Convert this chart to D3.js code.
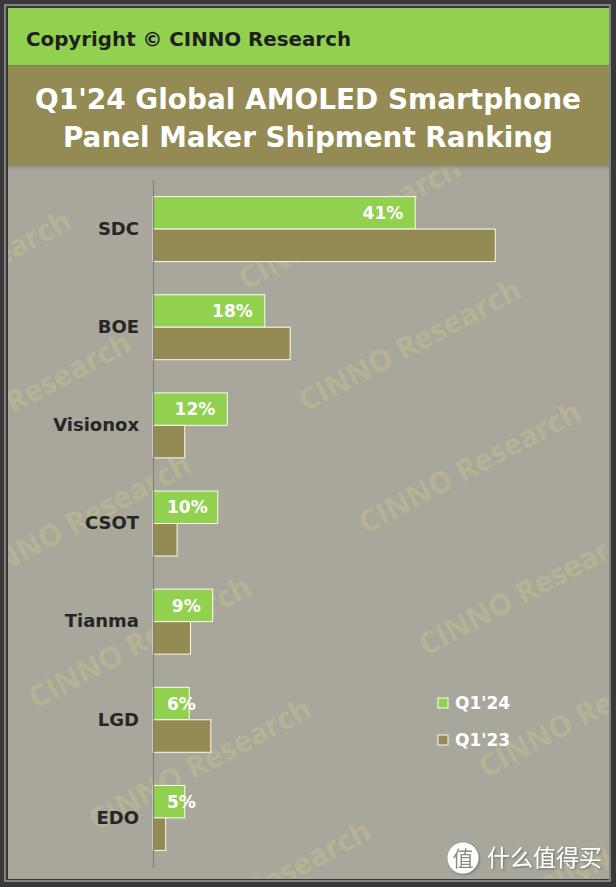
<!DOCTYPE html>
<html>
<head>
<meta charset="utf-8">
<script src="https://cdn.jsdelivr.net/npm/d3@7"></script>
<style>
  html, body { margin: 0; padding: 0; background: #383838; }
  svg { display: block; }
</style>
</head>
<body>
<script>
// data (share of shipments, %)
const makers = ["SDC", "BOE", "Visionox", "CSOT", "Tianma", "LGD", "EDO"];
const seriesNames = ["Q1'24", "Q1'23"];
const q124 = [41.3, 17.6, 11.7, 10.2, 9.4, 5.7, 5.0];
const q123 = [53.9, 21.6, 5.0, 3.8, 5.9, 9.1, 2.0];

const width = 616, height = 887;
const green = "#92d050", olive = "#948a54", plotBg = "#a9a79b";

const svg = d3.select("body").append("svg")
  .attr("width", width)
  .attr("height", height);

const defs = svg.append("defs");
const shadow = defs.append("linearGradient")
  .attr("id", "shadow").attr("x1", 0).attr("y1", 0).attr("x2", 0).attr("y2", 1);
shadow.append("stop").attr("offset", 0).attr("stop-color", "#6f6c5c").attr("stop-opacity", 0.6);
shadow.append("stop").attr("offset", 1).attr("stop-color", plotBg).attr("stop-opacity", 0);

defs.append("clipPath").attr("id", "plotClip")
  .append("rect").attr("x", 8).attr("y", 165).attr("width", 601).attr("height", 713);

defs.append("filter").attr("id", "txtShadow")
  .append("feDropShadow").attr("dx", 1).attr("dy", 1).attr("stdDeviation", 0.8)
  .attr("flood-color", "#555").attr("flood-opacity", 0.7);

// frame
svg.append("rect").attr("width", width).attr("height", height).attr("rx", 6).attr("fill", "#383838");
svg.append("rect").attr("x", 5).attr("y", 5).attr("width", 605).attr("height", 876)
  .attr("fill", "none").attr("stroke", "#9c9c96").attr("stroke-width", 1.5);
svg.append("rect").attr("x", 8).attr("y", 8).attr("width", 601).attr("height", 871).attr("fill", plotBg);

// watermark (behind everything in the plot area)
const wm = svg.append("g").attr("clip-path", "url(#plotClip)");
const wmPos = [];
for (let i = -4; i <= 6; i++) {
  for (let j = -2; j <= 3; j++) {
    const cx = 410 + i * 60 + j * 330;
    const cy = 345 + i * 122 - j * 175;
    if (cx > -100 && cx < 720 && cy > 130 && cy < 960) wmPos.push([cx, cy]);
  }
}
wm.selectAll("text").data(wmPos).enter().append("text")
  .attr("transform", d => `translate(${d[0]},${d[1]}) rotate(-28)`)
  .attr("text-anchor", "middle").attr("dy", "0.35em")
  .style("font-family", "Open Sans").style("font-weight", "bold").style("font-size", "30px")
  .attr("fill", "#d4ca86").attr("opacity", 0.32)
  .text("CINNO Research");

// header band
svg.append("rect").attr("x", 8).attr("y", 8).attr("width", 601).attr("height", 58).attr("fill", green);
svg.append("line").attr("x1", 8).attr("x2", 609).attr("y1", 65.5).attr("y2", 65.5)
  .attr("stroke", "#6e8f45").attr("stroke-width", 1);
svg.append("text")
  .attr("x", 26).attr("y", 46)
  .attr("textLength", 325).attr("lengthAdjust", "spacingAndGlyphs")
  .style("font-family", "DejaVu Sans").style("font-weight", "bold").style("font-size", "20px")
  .attr("fill", "#1f1f1f")
  .text("Copyright © CINNO Research");

// title band
svg.append("rect").attr("x", 8).attr("y", 66).attr("width", 601).attr("height", 99).attr("fill", olive);
svg.append("rect").attr("x", 8).attr("y", 165).attr("width", 601).attr("height", 7).attr("fill", "url(#shadow)");
const titleLines = [
  { t: "Q1'24 Global AMOLED Smartphone", y: 109, w: 546 },
  { t: "Panel Maker Shipment Ranking", y: 147, w: 490 }
];
svg.selectAll(".title").data(titleLines).enter().append("text")
  .attr("class", "title")
  .attr("x", width / 2).attr("y", d => d.y)
  .attr("text-anchor", "middle")
  .attr("textLength", d => d.w).attr("lengthAdjust", "spacingAndGlyphs")
  .style("font-family", "DejaVu Sans").style("font-weight", "bold").style("font-size", "28px")
  .attr("fill", "#ffffff")
  .text(d => d.t);

// scales
const y = d3.scaleBand().domain(makers).range([180, 867]);
const ySeries = d3.scaleBand().domain(seriesNames).range([0, y.bandwidth()]).paddingOuter(0.51);
const x = d3.scaleLinear().domain([0, 60]).range([153, 534]);
const color = d3.scaleOrdinal().domain(seriesNames).range([green, olive]);

const rows = makers.map((m, i) => ({ maker: m, vals: [
  { s: seriesNames[0], v: q124[i] },
  { s: seriesNames[1], v: q123[i] }
]}));

const groups = svg.append("g").selectAll("g").data(rows).enter().append("g")
  .attr("transform", d => `translate(0,${y(d.maker)})`);

groups.selectAll("rect").data(d => d.vals).enter().append("rect")
  .attr("x", x(0))
  .attr("y", d => ySeries(d.s))
  .attr("width", d => x(d.v) - x(0))
  .attr("height", ySeries.bandwidth())
  .attr("fill", d => color(d.s))
  .attr("stroke", "#fbfbf0").attr("stroke-width", 1);

// value labels on Q1'24 bars
const fmt = d => Math.round(d) + "%";
groups.append("text")
  .attr("y", ySeries(seriesNames[0]) + ySeries.bandwidth() / 2)
  .attr("dy", "0.36em")
  .style("font-family", "DejaVu Sans").style("font-weight", "bold").style("font-size", "17px")
  .attr("fill", "#ffffff")
  .text(d => fmt(d.vals[0].v))
  .each(function (d) {
    const w = this.getComputedTextLength();
    const xs = Math.max(x(d.vals[0].v) - 12 - w, x(0) + 14);
    d3.select(this).attr("x", xs);
  });

// axis
const yAxis = d3.axisLeft(y).tickSize(0).tickPadding(14);
const ax = svg.append("g").attr("transform", `translate(${x(0)},0)`).call(yAxis);
ax.select(".domain").attr("stroke", "#7f7f7f").attr("stroke-width", 1.2);
ax.selectAll("text")
  .style("font-family", "DejaVu Sans").style("font-weight", "bold").style("font-size", "18px")
  .attr("fill", "#262626");

// legend
const legend = svg.append("g").attr("transform", "translate(438,698)")
  .selectAll("g").data(seriesNames).enter().append("g")
  .attr("transform", (d, i) => `translate(0,${i * 37})`);
legend.append("rect").attr("width", 10).attr("height", 10)
  .attr("fill", d => color(d)).attr("stroke", "#fbfbf0").attr("stroke-width", 1);
legend.append("text").attr("x", 17).attr("y", 5).attr("dy", "0.36em")
  .style("font-family", "DejaVu Sans").style("font-weight", "bold").style("font-size", "17px")
  .attr("fill", "#ffffff")
  .text(d => d);

// site mark bottom right
const mark = svg.append("g").attr("filter", "url(#txtShadow)");
mark.append("circle").attr("cx", 463).attr("cy", 858).attr("r", 15.5).attr("fill", "#ffffff");
mark.append("text").attr("x", 463).attr("y", 858).attr("dy", "0.36em").attr("text-anchor", "middle")
  .style("font-family", "Noto Sans CJK SC").style("font-size", "21px").attr("fill", "#8c8b82")
  .text("值");
mark.append("text").attr("x", 487).attr("y", 858).attr("dy", "0.36em")
  .style("font-family", "Noto Sans CJK SC").style("font-size", "23px").attr("fill", "#ffffff")
  .text("什么值得买");
</script>
</body>
</html>
